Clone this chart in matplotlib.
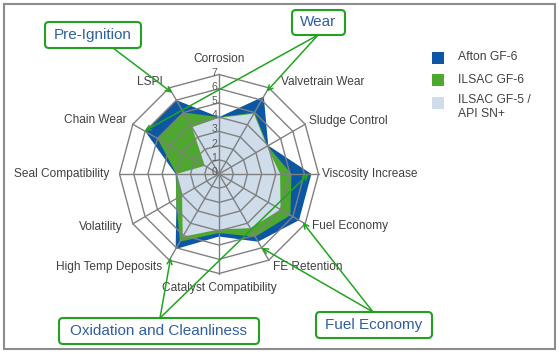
import numpy as np
import matplotlib
matplotlib.use("Agg")
import matplotlib.pyplot as plt
from matplotlib.patches import FancyBboxPatch, Rectangle
from matplotlib.transforms import IdentityTransform

plt.rcParams['font.family'] = ['Liberation Sans', 'DejaVu Sans']

# ---------------- data ----------------
categories = ['Corrosion', 'Valvetrain Wear', 'Sludge Control', 'Viscosity Increase',
              'Fuel Economy', 'FE Retention', 'Catalyst Compatibility',
              'High Temp Deposits', 'Volatility', 'Seal Compatibility',
              'Chain Wear', 'LSPI']
afton_gf6 = [4.0, 6.3, 4.0, 6.5, 6.5, 5.5, 4.4, 6.1, 3.45, 3.05, 6.0, 6.0]
ilsac_gf6 = [4.0, 5.0, 3.95, 5.1, 5.8, 5.1, 4.15, 5.5, 3.5, 3.0, 5.0, 5.0]
ilsac_gf5 = [3.95, 4.9, 3.9, 4.3, 5.0, 4.4, 3.9, 5.1, 3.0, 3.0, 1.15, 3.8]
series_names = ['Afton GF-6', 'ILSAC GF-6', 'ILSAC GF-5 /\nAPI SN+']
r_ticks = [0, 1, 2, 3, 4, 5, 6, 7]
callout_labels = ['Pre-Ignition', 'Wear', 'Oxidation and Cleanliness', 'Fuel Economy']
callout_targets = [
    [('LSPI', 6.6)],
    [('Valvetrain Wear', 6.7), ('Chain Wear', 6.05)],
    [('High Temp Deposits', 6.8), ('Viscosity Increase', 6.3)],
    [('Fuel Economy', 6.8), ('FE Retention', 6.0)],
]

# ---------------- styles / layout ----------------
W, H = 560, 354
c_blue = '#0b57a4'
c_green = '#4ea72e'
c_light = '#cfdcea'
c_grid = '#808080'
c_text = '#404040'
c_call_edge = '#22a022'
c_call_text = '#2f5f9f'
c_arrow = '#1fa51f'

# label offsets in pixels (dx, dy up), ha, va
label_layout = {
    'Corrosion': (0, 10, 'center', 'bottom'),
    'Valvetrain Wear': (12, 6, 'left', 'center'),
    'Sludge Control': (4, 3, 'left', 'center'),
    'Viscosity Increase': (4, 0, 'left', 'center'),
    'Fuel Economy': (7, -2.5, 'left', 'center'),
    'FE Retention': (4, -7, 'left', 'center'),
    'Catalyst Compatibility': (0, -8, 'center', 'top'),
    'High Temp Deposits': (-7, -7, 'right', 'center'),
    'Volatility': (-10, -3, 'right', 'center'),
    'Seal Compatibility': (-10, 0, 'right', 'center'),
    'Chain Wear': (-6.5, 4.5, 'right', 'center'),
    'LSPI': (-6, 5.5, 'right', 'center'),
}
# callout boxes: (x0, y0, x1, y1) image px ; arrow source (x, y) image px
callout_boxes = [(45, 22, 141, 48), (292, 10, 345, 35), (59, 318, 259, 344), (316, 312, 432, 338)]
callout_sources = [(113, 48), (318, 35), (160, 318), (373, 312)]

fig = plt.figure(figsize=(W / 100, H / 100), dpi=100)
fig.patch.set_facecolor('white')

cx, cy, R = 219, 174, 99.5
ax = fig.add_axes([(cx - R) / W, 1 - (cy + R) / H, 2 * R / W, 2 * R / H], projection='polar')
ax.set_theta_zero_location('N')
ax.set_theta_direction(-1)
ax.set_ylim(0, 7)
ax.axis('off')

n = len(categories)
theta = np.arange(n) * 2 * np.pi / n
th_c = np.r_[theta, theta[:1]]


def closed(v):
    v = np.asarray(v, dtype=float)
    return np.r_[v, v[:1]]


for vals, col, z in [(afton_gf6, c_blue, 2), (ilsac_gf6, c_green, 3), (ilsac_gf5, c_light, 4)]:
    ax.fill(th_c, closed(vals), color=col, lw=0, zorder=z)

for r in r_ticks[1:]:
    ax.plot(th_c, [r] * (n + 1), color=c_grid, lw=1.0, zorder=6, clip_on=False)
for t in theta:
    ax.plot([t, t], [0, r_ticks[-1]], color=c_grid, lw=1.0, zorder=6, clip_on=False)

for r in r_ticks:
    ax.annotate(str(r), xy=(0, r), xytext=(-2, 2), textcoords='offset pixels',
                ha='right', va='center', fontsize=7.5, color='#595959', zorder=7,
                annotation_clip=False)

for t, cat in zip(theta, categories):
    dx, dy, ha, va = label_layout[cat]
    ax.annotate(cat, xy=(t, r_ticks[-1]), xytext=(dx, dy), textcoords='offset pixels',
                ha=ha, va=va, fontsize=8.6, color=c_text, annotation_clip=False)

# legend (manual)
leg_sq_y = [51.5, 74.3, 96.7]
for name, col, y in zip(series_names, [c_blue, c_green, c_light], leg_sq_y):
    fig.add_artist(Rectangle((432, H - y - 12), 12, 12, transform=IdentityTransform(),
                             facecolor=col, edgecolor='none'))
    if '\n' in name:
        fig.text(458 / W, 1 - (y - 2.5) / H, name, ha='left', va='top', fontsize=8.7,
                 color=c_text, linespacing=1.2)
    else:
        fig.text(458 / W, 1 - (y + 6) / H, name, ha='left', va='center', fontsize=8.7,
                 color=c_text)

# callouts
cat_theta = dict(zip(categories, theta))
for label, box, src, targets in zip(callout_labels, callout_boxes, callout_sources, callout_targets):
    x0, y0, x1, y1 = box
    fig.add_artist(FancyBboxPatch((x0, H - y1), x1 - x0, y1 - y0,
                                  boxstyle='round,pad=0,rounding_size=4',
                                  transform=IdentityTransform(), facecolor='white',
                                  edgecolor=c_call_edge, lw=1.5, zorder=10))
    fig.text((x0 + x1) / 2 / W, 1 - (y0 + y1) / 2 / H, label, ha='center', va='center',
             fontsize=11, color=c_call_text, zorder=11)
    for cat, r in targets:
        ax.annotate('', xy=(cat_theta[cat], r), xycoords='data',
                    xytext=(src[0] / W, 1 - src[1] / H), textcoords='figure fraction',
                    arrowprops=dict(arrowstyle='->', color=c_arrow, lw=1.1,
                                    shrinkA=0, shrinkB=0, mutation_scale=9),
                    annotation_clip=False, zorder=9)

# outer frame
fig.add_artist(Rectangle((3.5, H - 349), 551.5, 345, transform=IdentityTransform(),
                         facecolor='none', edgecolor='#8c8c8c', lw=1.5))

fig.savefig('out.png', dpi=100)
